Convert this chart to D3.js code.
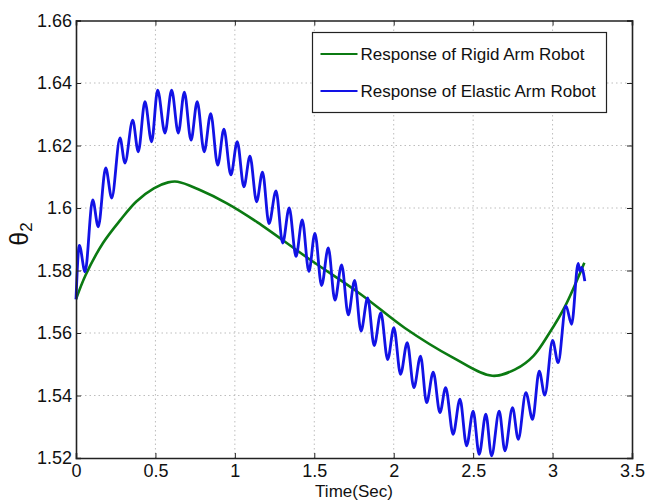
<!DOCTYPE html>
<html>
<head>
<meta charset="utf-8">
<script src="https://cdn.jsdelivr.net/npm/d3@7"></script>
<style>
body { margin: 0; background: #fff; }
text { font-family: Arial, "Liberation Sans", Helvetica, sans-serif; fill: #111; }
</style>
</head>
<body>
<div id="chart"></div>
<script>
var width = 646;
var height = 500;

// ---- data ----
var xTicks = [0, 0.5, 1, 1.5, 2, 2.5, 3, 3.5];
var yTicks = [1.52, 1.54, 1.56, 1.58, 1.6, 1.62, 1.64, 1.66];

var seriesNames = ["Response of Rigid Arm Robot", "Response of Elastic Arm Robot"];

// rigid arm (smooth)
var rigidT = [0, 0.06, 0.17, 0.28, 0.38, 0.49, 0.58, 0.64, 0.77, 0.95, 1.14, 1.47, 1.79, 2.07, 2.37, 2.62, 2.77, 2.88, 2.98, 3.08, 3.20];
var rigidV = [1.5708, 1.5785, 1.5888, 1.5962, 1.6021, 1.6063, 1.6082, 1.6084, 1.6060, 1.6015, 1.5955, 1.5836, 1.5725, 1.5616, 1.5522, 1.5463, 1.5485, 1.5527, 1.5600, 1.5687, 1.5825];

// elastic arm (peaks and troughs of the oscillation)
var elasticT = [0.000, 0.021, 0.057, 0.105, 0.140, 0.187, 0.225, 0.277, 0.308, 0.357,
  0.392, 0.434, 0.476, 0.514, 0.560, 0.602, 0.644, 0.682, 0.724, 0.763,
  0.807, 0.848, 0.892, 0.931, 0.975, 1.015, 1.057, 1.095, 1.137, 1.174,
  1.215, 1.259, 1.301, 1.342, 1.385, 1.424, 1.466, 1.504, 1.546, 1.588,
  1.630, 1.672, 1.714, 1.754, 1.794, 1.836, 1.877, 1.919, 1.962, 2.001,
  2.043, 2.085, 2.127, 2.169, 2.207, 2.249, 2.291, 2.327, 2.374, 2.417,
  2.459, 2.500, 2.538, 2.580, 2.616, 2.664, 2.700, 2.748, 2.784, 2.832,
  2.874, 2.916, 2.951, 3.000, 3.035, 3.084, 3.120, 3.161, 3.172, 3.182, 3.203];
var elasticV = [1.5708, 1.5880, 1.5796, 1.6026, 1.5940, 1.6128, 1.6032, 1.6224, 1.6144, 1.6281,
  1.6180, 1.6340, 1.6212, 1.6377, 1.6240, 1.6377, 1.6240, 1.6371, 1.6217, 1.6340,
  1.6180, 1.6302, 1.6137, 1.6252, 1.6106, 1.6212, 1.6068, 1.6166, 1.6020, 1.6115,
  1.5950, 1.6055, 1.5888, 1.6000, 1.5845, 1.5962, 1.5797, 1.5919, 1.5752, 1.5872,
  1.5705, 1.5818, 1.5658, 1.5768, 1.5606, 1.5712, 1.5560, 1.5664, 1.5515, 1.5617,
  1.5468, 1.5569, 1.5425, 1.5526, 1.5377, 1.5475, 1.5345, 1.5425, 1.5276, 1.5388,
  1.5239, 1.5350, 1.5212, 1.5340, 1.5207, 1.5350, 1.5223, 1.5361, 1.5260, 1.5409,
  1.5324, 1.5478, 1.5401, 1.5576, 1.5505, 1.5687, 1.5628, 1.5823, 1.5798, 1.5810, 1.5766];

var colors = ["#0b7a12", "#1212e6"];

// ---- layout ----
var margin = {top: 20.5, right: 14, bottom: 42, left: 76};
var w = width - margin.left - margin.right;
var h = height - margin.top - margin.bottom;

var svg = d3.select("#chart")
  .append("svg")
  .attr("width", width)
  .attr("height", height)
  .style("background", "#fff");

var g = svg.append("g")
  .attr("transform", "translate(" + margin.left + "," + margin.top + ")");

var x = d3.scaleLinear().domain([0, 3.5]).range([0, w]);
var y = d3.scaleLinear().domain([1.52, 1.66]).range([h, 0]);

var fmt = function(d) { return String(+d.toFixed(2)); };

// grid
g.append("g").selectAll("line")
  .data(xTicks.slice(1, -1))
  .enter().append("line")
  .attr("x1", function(d) { return x(d); })
  .attr("x2", function(d) { return x(d); })
  .attr("y1", 0).attr("y2", h)
  .attr("stroke", "#bdbdbd").attr("stroke-width", 1)
  .attr("stroke-dasharray", "1.5,3");

g.append("g").selectAll("line")
  .data(yTicks.slice(1, -1))
  .enter().append("line")
  .attr("y1", function(d) { return y(d); })
  .attr("y2", function(d) { return y(d); })
  .attr("x1", 0).attr("x2", w)
  .attr("stroke", "#bdbdbd").attr("stroke-width", 1)
  .attr("stroke-dasharray", "1.5,3");

// lines
var rigid = rigidT.map(function(t, i) { return [t, rigidV[i]]; });
var elastic = elasticT.map(function(t, i) { return [t, elasticV[i]]; });

g.append("path")
  .datum(rigid)
  .attr("fill", "none")
  .attr("stroke", colors[0])
  .attr("stroke-width", 2.6)
  .attr("d", d3.line()
    .x(function(d) { return x(d[0]); })
    .y(function(d) { return y(d[1]); })
    .curve(d3.curveCatmullRom));

g.append("path")
  .datum(elastic)
  .attr("fill", "none")
  .attr("stroke", colors[1])
  .attr("stroke-width", 2.8)
  .attr("stroke-linejoin", "round")
  .attr("d", d3.line()
    .x(function(d) { return x(d[0]); })
    .y(function(d) { return y(d[1]); })
    .curve(d3.curveMonotoneX));

// axes (matlab style box, ticks inward)
var axB = g.append("g").attr("transform", "translate(0," + h + ")")
  .call(d3.axisBottom(x).tickValues(xTicks).tickFormat(fmt).tickSize(-5).tickPadding(6));
var axL = g.append("g")
  .call(d3.axisLeft(y).tickValues(yTicks).tickFormat(fmt).tickSize(-5).tickPadding(4));
var axT = g.append("g")
  .call(d3.axisTop(x).tickValues(xTicks).tickFormat("").tickSize(-5));
var axR = g.append("g").attr("transform", "translate(" + w + ",0)")
  .call(d3.axisRight(y).tickValues(yTicks).tickFormat("").tickSize(-5));

[axB, axL, axT, axR].forEach(function(a) {
  a.select(".domain").attr("stroke", "#222").attr("stroke-width", 1.6);
  a.selectAll(".tick line").attr("stroke", "#222");
  a.selectAll("text").style("font-size", "18px").attr("fill", "#111");
});

// axis labels
g.append("text")
  .attr("x", w / 2)
  .attr("y", h + 39)
  .attr("text-anchor", "middle")
  .style("font-size", "17px")
  .text("Time(Sec)");

var yl = svg.append("text")
  .attr("transform", "translate(28,234) rotate(-90)")
  .attr("text-anchor", "middle")
  .style("font-size", "25px");
yl.append("tspan").text("\u03b8");
yl.append("tspan").attr("dy", 4).style("font-size", "17px").text("2");

// legend
var lg = svg.append("g").attr("transform", "translate(312.5,32.5)");
lg.append("rect")
  .attr("width", 294).attr("height", 80)
  .attr("fill", "#fff").attr("stroke", "#222").attr("stroke-width", 1.2);

seriesNames.forEach(function(name, i) {
  var yy = 21.5 + i * 37;
  lg.append("line")
    .attr("x1", 8).attr("x2", 45)
    .attr("y1", yy).attr("y2", yy)
    .attr("stroke", colors[i]).attr("stroke-width", 2);
  lg.append("text")
    .attr("x", 48).attr("y", yy + 6)
    .style("font-size", "17px")
    .text(name);
});
</script>
</body>
</html>
